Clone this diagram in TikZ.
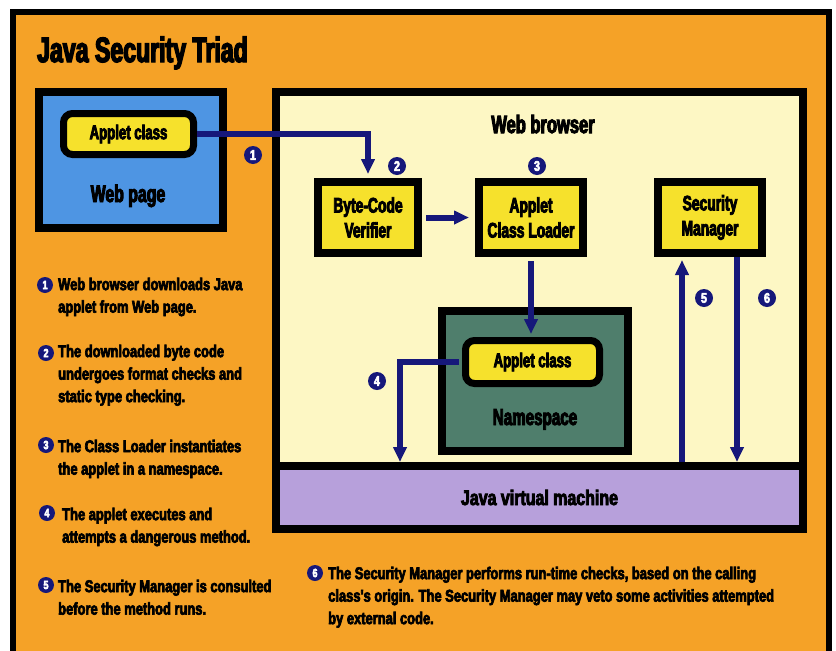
\documentclass[tikz,border=0pt]{standalone}
\usepackage{fontspec}
\usetikzlibrary{arrows.meta}
\setmainfont{Liberation Sans}
\newfontfamily\cnda{Liberation Sans Bold}[FakeStretch=0.66,FakeBold=4]
\newfontfamily\cndb{Liberation Sans Bold}[FakeStretch=0.76,FakeBold=4]
\newcommand\fsz[2]{\fontsize{#1}{#2}\selectfont}
\definecolor{orng}{HTML}{F5A227}
\definecolor{webblue}{HTML}{4E95E3}
\definecolor{yel}{HTML}{F6E12C}
\definecolor{brow}{HTML}{FDF7C4}
\definecolor{nsgreen}{HTML}{4F7E6C}
\definecolor{jvmc}{HTML}{B7A0DB}
\definecolor{navy}{HTML}{16187A}
\tikzset{
  ybox/.style={draw=black, line width=8pt, fill=yel, minimum width=102pt, minimum height=71pt,
    inner sep=0pt, align=center, font=\cnda\fsz{21}{25}},
  rbox/.style={draw=black, line width=7pt, fill=yel, rounded corners=9pt, inner sep=0pt,
    font=\cnda\fsz{20}{20}},
  frame/.style={draw=black, line width=8pt, inner sep=0pt},
  arr/.style={draw=navy, line width=6pt, -{Triangle[length=15pt,width=13pt]}},
  num/.style={circle, fill=navy, text=white, inner sep=0pt, minimum size=18pt,
    font=\cndb\fsz{14}{14}},
  lnum/.style={num, minimum size=16pt, font=\cndb\fsz{12}{12}},
  body/.style={anchor=north west, inner sep=0pt, align=left, font=\cndb\fsz{17}{22.5}},
  lbl/.style={anchor=base, inner sep=0pt}
}
\begin{document}
\begin{tikzpicture}[x=1pt,y=-1pt]
\useasboundingbox (0,0) rectangle (836,651);
\fill[white] (0,0) rectangle (836,651);
% outer frame
\draw[line width=6pt, fill=orng] (13,12) rectangle (829,660);
% title
\node[anchor=base west, inner sep=0pt, font=\cnda\fsz{35}{35}] (title) at (37,62) {Java Security Triad};
% web page
\node[frame, fill=webblue, minimum width=184pt, minimum height=136pt] (webpage) at (131,160) {};
\node[rbox, minimum width=130pt, minimum height=41pt] (appl1) at (128.5,134) {Applet class};
\node[lbl, font=\cnda\fsz{24}{24}] (wplabel) at (128,202) {Web page};
% browser
\node[frame, fill=brow, minimum width=527pt, minimum height=437pt] (browser) at (539.5,310.5) {};
\node[frame, fill=jvmc, minimum width=527pt, minimum height=63pt, font=\cndb\fsz{21}{21}] (jvm) at (539.5,497.5) {Java virtual machine};
\node[lbl, font=\cnda\fsz{25}{25}] (wblabel) at (543,133) {Web browser};
% boxes
\node[ybox, minimum width=100pt] (bcv) at (368,217.5) {Byte-Code\\Verifier};
\node[ybox, minimum width=104pt] (acl) at (531,217.5) {Applet\\Class Loader};
\node[ybox, minimum width=104pt] (sm) at (710,217.5) {Security\\Manager};
% namespace
\node[frame, fill=nsgreen, minimum width=186pt, minimum height=140pt] (ns) at (535,381) {};
\node[rbox, minimum width=134pt, minimum height=43pt] (appl2) at (532.5,362) {Applet class};
\node[lbl, font=\cnda\fsz{23}{23}] (nslabel) at (535,425) {Namespace};
% coordinates for free arrow ends
\coordinate (nstop) at (531,334);
\coordinate (a4) at (400,462);
\coordinate (a5s) at (682,462);
\coordinate (a5e) at (682,260);
\coordinate (a6e) at (737,462);
% arrows
\draw[arr] (appl1.east) -| ([yshift=4pt]bcv.north);
\draw[arr] ([xshift=4pt]bcv.east) -- ([xshift=-6pt]acl.west);
\draw[arr] ([yshift=-4pt]acl.south) -- (nstop);
\draw[arr] ([xshift=-3.5pt]appl2.west) -| (a4);
\draw[arr] (a5s) -- (a5e);
\draw[arr] (sm.south -| a6e) -- (a6e);
% step numbers
\node[num] (n1) at (253,155) {1};
\node[num] (n2) at (397,166) {2};
\node[num] (n3) at (537,166) {3};
\node[num] (n4) at (377,381) {4};
\node[num] (n5) at (704,298) {5};
\node[num] (n6) at (767,298) {6};
% legend
\node[lnum] (l1) at (45,285) {1};
\node[body] (t1) at (58,277.6) {Web browser downloads Java\\applet from Web page.};
\node[lnum] (l2) at (46,353) {2};
\node[body] (t2) at (58,344.6) {The downloaded byte code\\undergoes format checks and\\static type checking.};
\node[lnum] (l3) at (46,445) {3};
\node[body] (t3) at (58,439.6) {The Class Loader instantiates\\the applet in a namespace.};
\node[lnum] (l4) at (47,513) {4};
\node[body] (t4) at (62,507.6) {The applet executes and\\attempts a dangerous method.};
\node[lnum] (l5) at (46,585) {5};
\node[body] (t5) at (58,579.6) {The Security Manager is consulted\\before the method runs.};
\node[lnum] (l6) at (315,573) {6};
\node[body] (t6) at (328,566.6) {The Security Manager performs run-time checks, based on the calling\\class's origin. The Security Manager may veto some activities attempted\\by external code.};
\end{tikzpicture}
\end{document}
